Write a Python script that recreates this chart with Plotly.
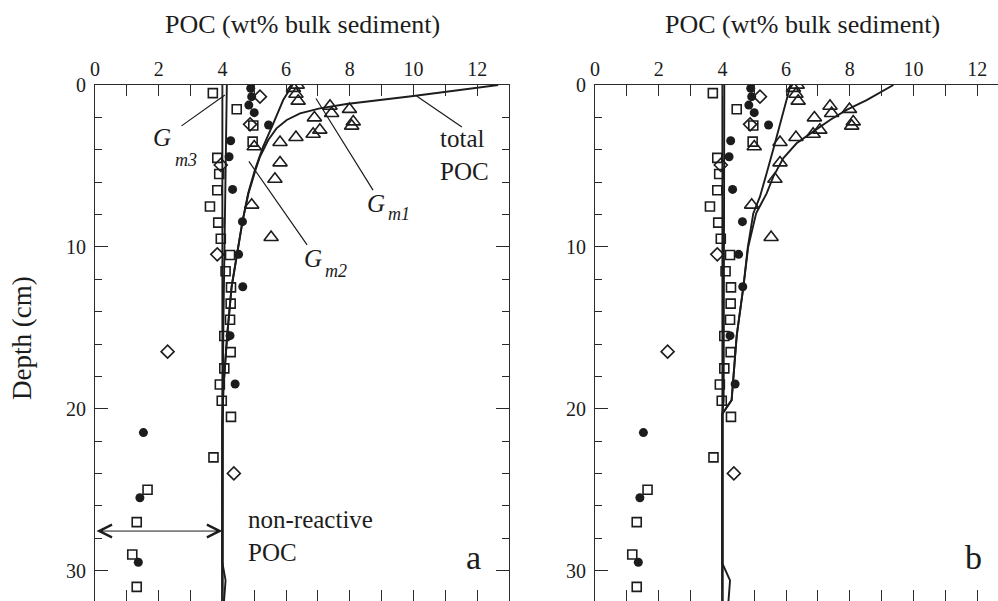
import plotly.graph_objects as go

# ---------------- data ----------------
# open squares
sq_depth = [0.5, 1.5, 2.5, 3.5, 4.5, 5.5, 6.5, 7.5, 8.5, 9.5, 10.5, 11.5, 12.5, 13.5,
            14.5, 15.5, 16.5, 17.5, 18.5, 19.5, 20.5, 23.0, 25.0, 27.0, 29.0, 31.0]
sq_poc = [3.70, 4.45, 4.97, 4.95, 3.84, 3.90, 3.84, 3.61, 3.87, 3.95, 4.24, 4.10, 4.27, 4.26,
          4.24, 4.06, 4.26, 4.06, 3.92, 3.98, 4.27, 3.72, 1.65, 1.31, 1.17, 1.31]
# filled circles
circ_depth = [0.2, 0.72, 1.24, 1.71, 2.47, 3.44, 4.43, 6.45, 8.44, 10.46, 12.46, 15.48,
              18.47, 21.47, 25.49, 29.48]
circ_poc = [4.89, 4.92, 4.83, 5.00, 5.45, 4.26, 4.21, 4.32, 4.63, 4.51, 4.64, 4.24,
            4.40, 1.52, 1.41, 1.36]
# open diamonds
diam_depth = [0.72, 2.43, 4.94, 10.46, 16.47, 23.99]
diam_poc = [5.18, 4.87, 3.95, 3.84, 2.28, 4.36]
# open triangles
tri_depth = [0.0, 0.2, 0.56, 0.99, 1.30, 1.50, 1.75, 2.02, 2.27, 2.53, 2.78, 3.03, 3.23,
             3.54, 3.81, 4.80, 5.81, 7.41, 9.41]
tri_poc = [6.35, 6.23, 6.31, 6.38, 7.38, 7.99, 7.43, 6.89, 8.11, 8.06, 7.06, 6.85, 6.31,
           5.81, 5.00, 5.81, 5.65, 4.92, 5.53]

# non-reactive POC (constant)
nonreact_depth = [0, 32]
nonreact_poc = [4.0, 4.0]

# panel a model curves
gm3_a_depth = [0, 5, 10, 15, 20, 25, 29.5, 30.6, 31.9]
gm3_a_poc = [4.14, 4.10, 4.06, 4.03, 4.01, 4.00, 4.00, 4.10, 4.05]
gm2_a_depth = [0, 0.93, 2.37, 3.81, 5.25, 6.69, 8.44, 10.46, 12.46, 15.48, 18.8, 21, 32]
gm2_a_poc = [6.20, 5.91, 5.60, 5.28, 5.02, 4.81, 4.63, 4.45, 4.29, 4.15, 4.03, 4.00, 4.00]
tot_a_depth = [0, 0.16, 0.45, 0.68, 0.93, 1.17, 1.44, 1.75, 2.16, 2.68, 3.4, 4.43, 5.25,
               6.69, 8.44, 10.46, 12.46, 15.48, 18.8, 21, 32]
tot_a_poc = [12.66, 12.04, 11.04, 10.0, 8.95, 7.90, 7.06, 6.44, 6.02, 5.70, 5.44, 5.18, 5.04,
             4.82, 4.63, 4.45, 4.29, 4.15, 4.03, 4.00, 4.00]

# panel b model curves
gm3_b_depth = [0, 10, 19.5, 20.3, 29.55, 30.6, 31.9]
gm3_b_poc = [4.06, 4.05, 4.04, 4.00, 4.00, 4.24, 4.19]
gm2_b_depth = [0, 1.75, 3.6, 5.45, 6.9, 7.93, 10, 12.46, 15.48, 19.46, 20.3, 32]
gm2_b_poc = [6.14, 5.91, 5.65, 5.39, 5.18, 4.97, 4.80, 4.66, 4.45, 4.29, 4.00, 4.00]
tot_b_depth = [0, 0.93, 1.54, 2.16, 2.88, 3.6, 4.53, 5.66, 6.69, 7.93, 10, 12.46, 15.48,
               19.46, 20.3, 32]
tot_b_poc = [9.37, 8.53, 7.90, 7.38, 6.85, 6.33, 5.91, 5.60, 5.39, 5.06, 4.81, 4.66, 4.45,
             4.29, 4.00, 4.00]

# axes
poc_ticks = [0, 2, 4, 6, 8, 10, 12]
poc_ticktext = ["0", "2", "4", "6", "8", "10", "12"]
depth_ticks = [0, 10, 20, 30]
depth_ticktext = ["0", "10", "20", "30"]
x_title = "POC (wt% bulk sediment)"
y_title = "Depth (cm)"

# ---------------- style ----------------
FONT = "Liberation Serif"
INK = "#1c1c1c"
AXC = "#2a2a2a"
W, H = 998, 601
TOP = 85          # px of depth 0
LEFT_A, RIGHT_A = 95, 509
LEFT_B = 595
XMAX = 13.0
YMAX = 31.87

fig = go.Figure()


def add_panel(xa, ya, gm3_d, gm3_p, gm2_d, gm2_p, tot_d, tot_p):
    lw = 1.9
    for d, p in [(nonreact_depth, nonreact_poc), (gm3_d, gm3_p), (gm2_d, gm2_p), (tot_d, tot_p)]:
        fig.add_trace(go.Scatter(x=p, y=d, mode="lines", line=dict(color=INK, width=lw),
                                 xaxis=xa, yaxis=ya, showlegend=False, hoverinfo="skip"))
    fig.add_trace(go.Scatter(x=sq_poc, y=sq_depth, mode="markers", xaxis=xa, yaxis=ya,
                             marker=dict(symbol="square-open", size=9, color=INK,
                                         line=dict(width=1.6, color=INK)), showlegend=False))
    fig.add_trace(go.Scatter(x=diam_poc, y=diam_depth, mode="markers", xaxis=xa, yaxis=ya,
                             marker=dict(symbol="diamond-open", size=10, color=INK,
                                         line=dict(width=1.6, color=INK)), showlegend=False))
    fig.add_trace(go.Scatter(x=tri_poc, y=tri_depth, mode="markers", xaxis=xa, yaxis=ya,
                             marker=dict(symbol="triangle-up-open", size=12.5, color=INK,
                                         line=dict(width=1.6, color=INK)), showlegend=False))
    fig.add_trace(go.Scatter(x=circ_poc, y=circ_depth, mode="markers", xaxis=xa, yaxis=ya,
                             marker=dict(symbol="circle", size=9, color=INK,
                                         line=dict(width=0, color=INK)), showlegend=False))


add_panel("x", "y", gm3_a_depth, gm3_a_poc, gm2_a_depth, gm2_a_poc, tot_a_depth, tot_a_poc)
add_panel("x2", "y2", gm3_b_depth, gm3_b_poc, gm2_b_depth, gm2_b_poc, tot_b_depth, tot_b_poc)

tickfont = dict(family=FONT, size=20, color=INK)


def xaxis_cfg(domain, rng):
    return dict(domain=domain, range=rng, side="top", showline=True, linecolor=AXC, linewidth=1.2,
                mirror="ticks", ticks="inside", ticklen=11, tickwidth=1.2, tickcolor=AXC,
                tickmode="array", tickvals=poc_ticks, ticktext=poc_ticktext,
                minor=dict(dtick=1, tick0=0, ticks="inside", ticklen=11, tickwidth=1.2, tickcolor=AXC),
                showgrid=False, zeroline=False, tickfont=tickfont, fixedrange=True,
                automargin=False)


def yaxis_cfg(anchor, mirror):
    return dict(domain=[0, 1 - TOP / H], range=[YMAX, 0], anchor=anchor, showline=True,
                linecolor=AXC, linewidth=1.2, mirror=mirror, ticks="inside", ticklen=13,
                tickwidth=1.2, tickcolor=AXC, tickmode="array", tickvals=depth_ticks,
                ticktext=depth_ticktext,
                minor=dict(dtick=2, tick0=0, ticks="inside", ticklen=7, tickwidth=1.2, tickcolor=AXC),
                showgrid=False, zeroline=False, tickfont=tickfont, fixedrange=True,
                ticklabelstandoff=4, automargin=False)


xb_max = XMAX * (W - LEFT_B) / (RIGHT_A - LEFT_A)
fig.update_layout(
    width=W, height=H, margin=dict(l=0, r=0, t=0, b=0, pad=0, autoexpand=False),
    paper_bgcolor="white", plot_bgcolor="white",
    xaxis=xaxis_cfg([LEFT_A / W, RIGHT_A / W], [0, XMAX]) | dict(anchor="y"),
    yaxis=yaxis_cfg("x", "ticks"),
    xaxis2=xaxis_cfg([LEFT_B / W, 1.0], [0, xb_max]) | dict(anchor="y2"),
    yaxis2=yaxis_cfg("x2", False),
    font=dict(family=FONT, color=INK),
)

ann = []
tfont = dict(family=FONT, size=26, color=INK)
# axis titles
for x0, x1 in [(LEFT_A, RIGHT_A), (LEFT_B, LEFT_B + (RIGHT_A - LEFT_A))]:
    ann.append(dict(text=x_title, xref="paper", yref="paper", x=(x0 + x1) / 2 / W, y=1 - 25 / H,
                    xanchor="center", yanchor="middle", showarrow=False, font=tfont))
ann.append(dict(text=y_title, xref="paper", yref="paper", x=22 / W, y=1 - 338 / H, textangle=-90,
                xanchor="center", yanchor="middle", showarrow=False,
                font=dict(family=FONT, size=27, color=INK)))

# leader lines (panel a)
leaders = [((2.67, 2.59), (4.08, 0.62)),      # G_m3
           ((6.91, 0.74), (8.73, 6.49)),      # G_m1
           ((4.80, 4.63), (6.66, 9.88)),      # G_m2
           ((10.05, 0.62), (11.52, 2.59))]    # total POC
for (xa0, ya0), (xa1, ya1) in leaders:
    ann.append(dict(x=xa1, y=ya1, ax=xa0, ay=ya0, xref="x", yref="y", axref="x", ayref="y",
                    text="", showarrow=True, arrowhead=0, arrowwidth=1.2, arrowcolor=INK))

afont = dict(family=FONT, size=25, color=INK)
gfont = dict(family=FONT, size=25, color=INK, style="italic")
sfont = dict(family=FONT, size=18, color=INK, style="italic")
for gx, gy, sx, sy, sub in [(2.10, 3.27, 2.86, 4.63, "m3"),
                            (8.82, 7.29, 9.54, 7.97, "m1"),
                            (6.84, 10.69, 7.57, 11.49, "m2")]:
    ann.append(dict(text="G", x=gx, y=gy, xref="x", yref="y", showarrow=False, font=gfont,
                    xanchor="center", yanchor="middle"))
    ann.append(dict(text=sub, x=sx, y=sy, xref="x", yref="y", showarrow=False, font=sfont,
                    xanchor="center", yanchor="middle"))

ann.append(dict(text="total<br>POC", x=10.77, y=4.3, xref="x", yref="y", showarrow=False,
                font=afont, xanchor="left", yanchor="middle", align="left"))
ann.append(dict(text="non-reactive<br>POC", x=4.75, y=27.83, xref="x", yref="y", showarrow=False,
                font=afont, xanchor="left", yanchor="middle", align="left"))
# double-headed arrow
ann.append(dict(x=4.0, y=27.55, ax=0.0, ay=27.55, xref="x", yref="y", axref="x", ayref="y",
                text="", showarrow=True, arrowhead=5, startarrowhead=5, arrowside="end+start",
                arrowsize=2.5, startarrowsize=2.5, arrowwidth=1, arrowcolor=INK))
# panel letters
pfont = dict(family=FONT, size=34, color=INK)
ann.append(dict(text="a", x=11.9, y=29.2, xref="x", yref="y", showarrow=False, font=pfont,
                xanchor="center", yanchor="middle"))
ann.append(dict(text="b", x=11.9, y=29.2, xref="x2", yref="y2", showarrow=False, font=pfont,
                xanchor="center", yanchor="middle"))

fig.update_layout(annotations=ann)
fig.write_html("out.html")
